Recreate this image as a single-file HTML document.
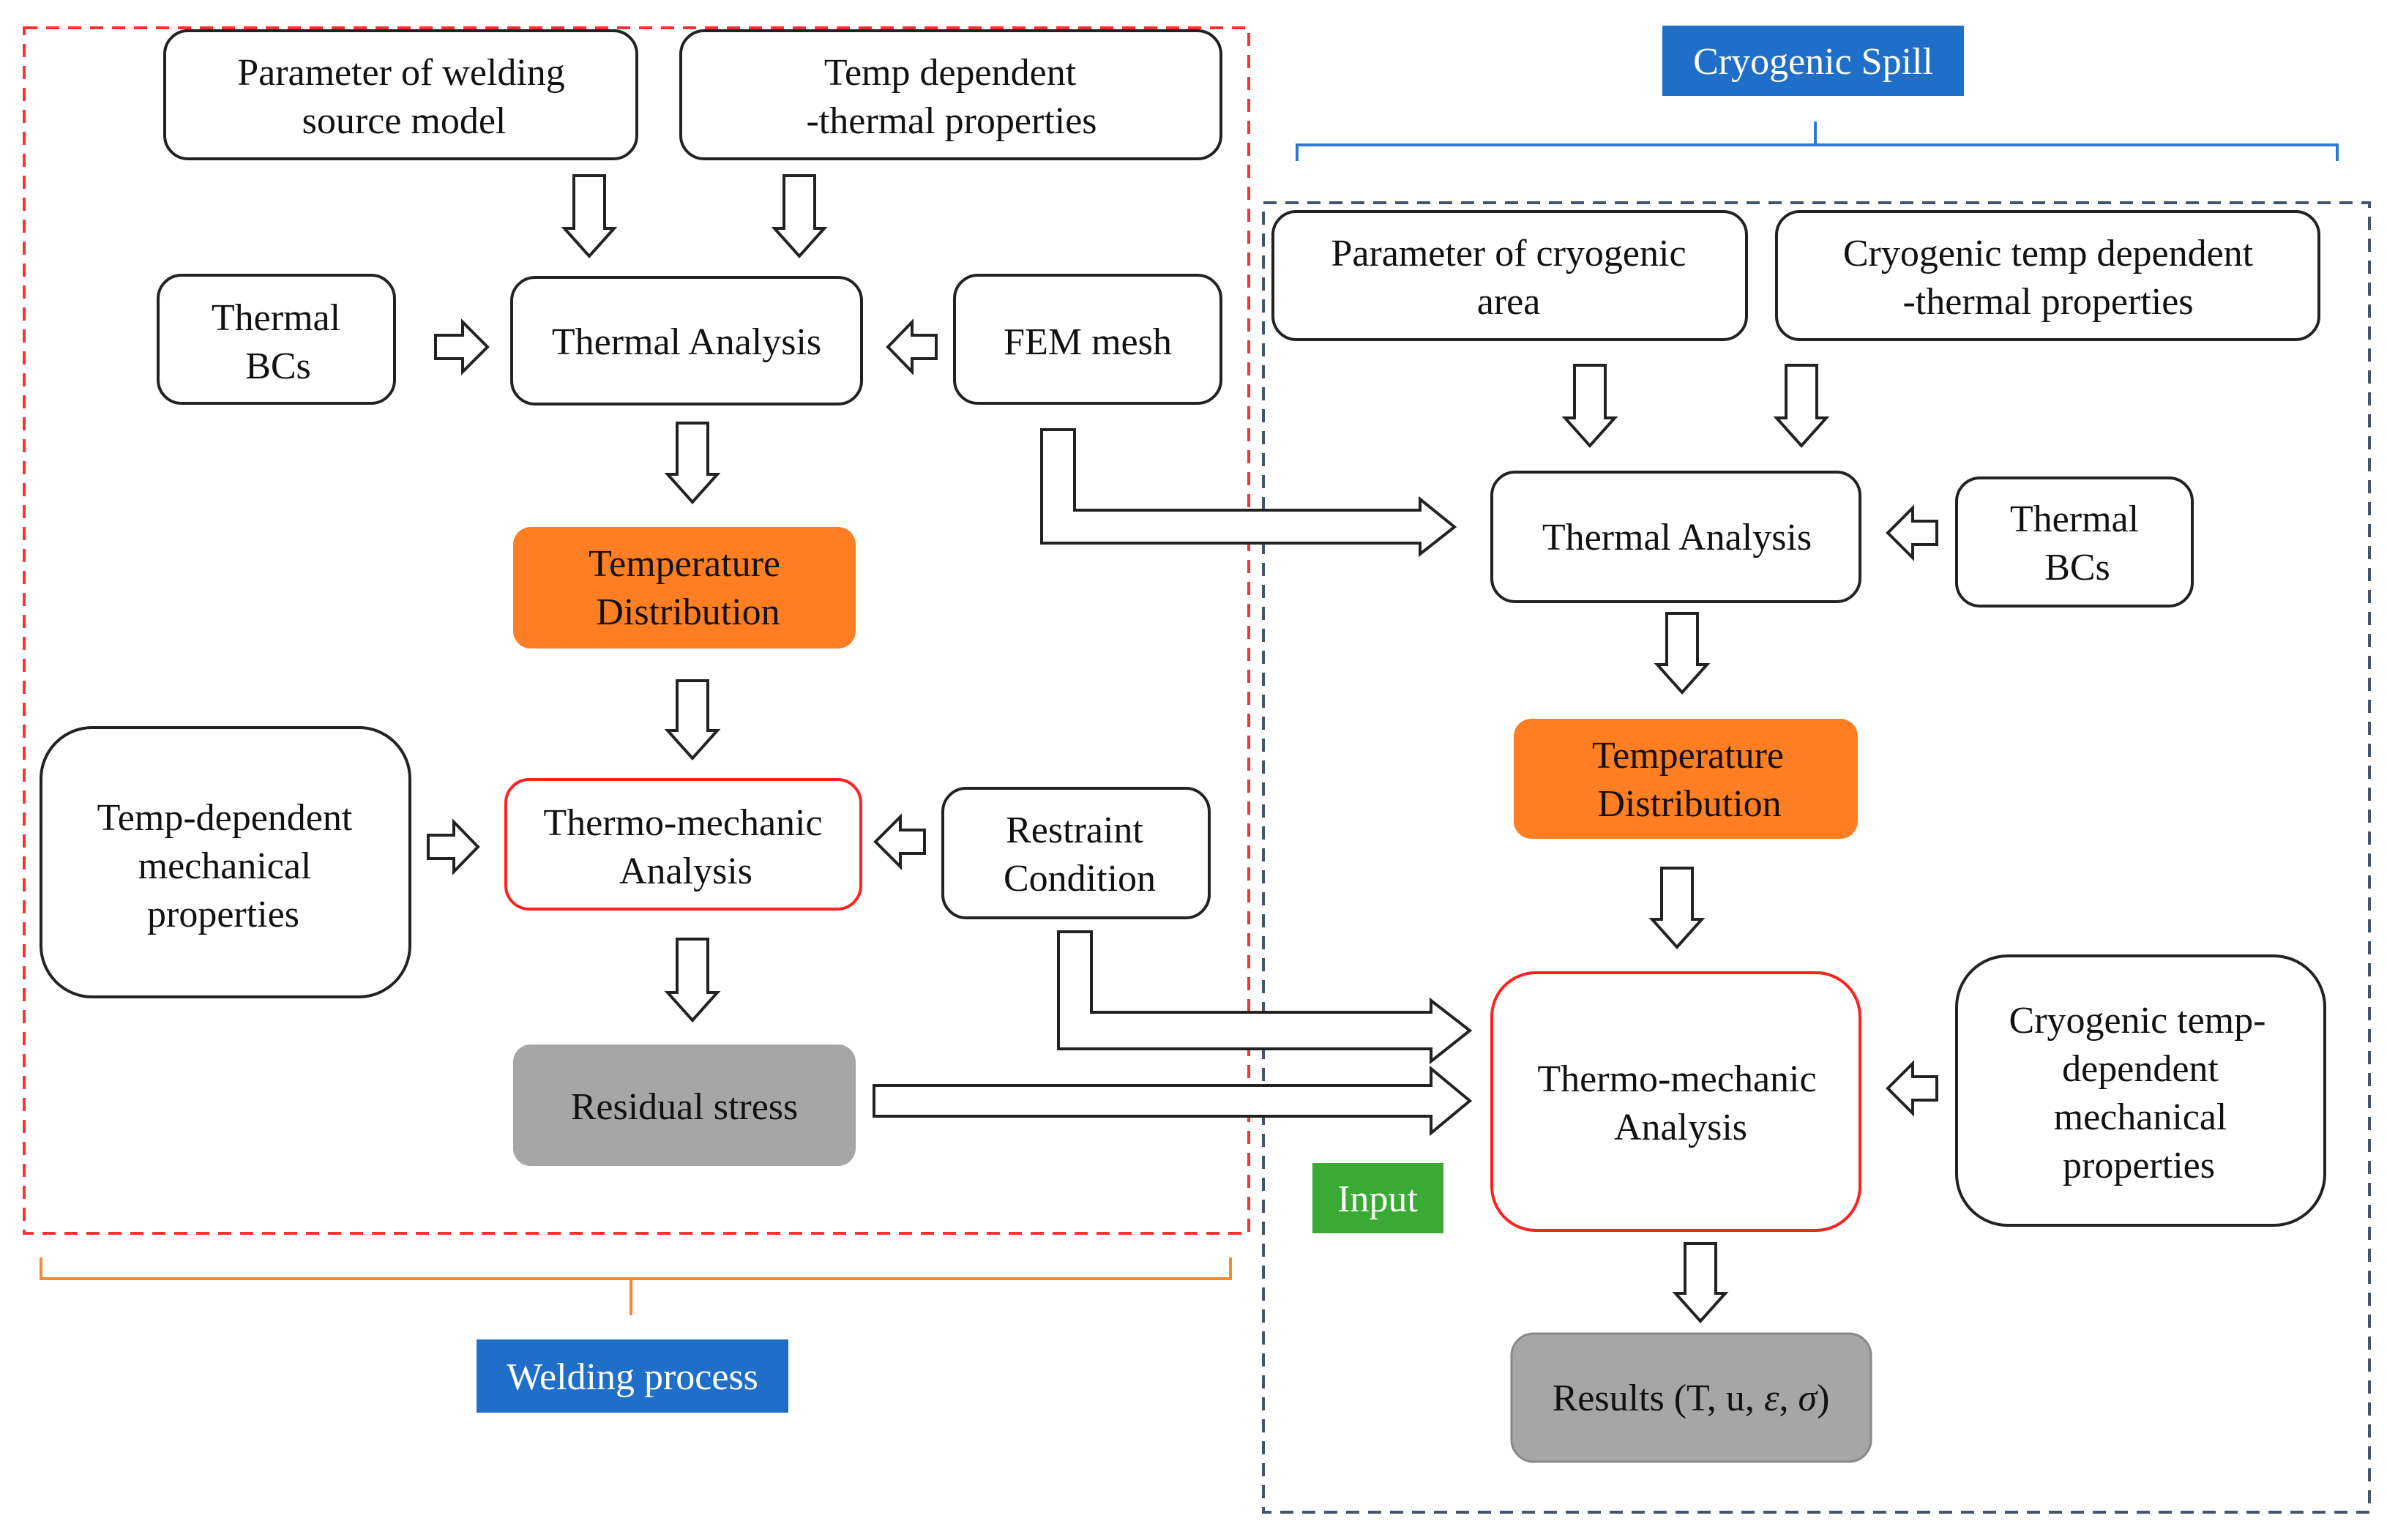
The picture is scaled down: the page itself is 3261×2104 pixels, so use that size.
<!DOCTYPE html>
<html><head><meta charset="utf-8"><style>html,body{margin:0;padding:0;background:#fff}svg{display:block}</style></head>
<body>
<svg width="3261" height="2104" viewBox="0 0 3261 2104" xmlns="http://www.w3.org/2000/svg" font-family="'Liberation Serif', serif" font-size="52" text-anchor="middle">
<rect width="3261" height="2104" fill="#fff"/>
<rect x="33" y="38" width="1673" height="1647" fill="none" stroke="#ff3030" stroke-width="4" stroke-dasharray="18,12"/>
<rect x="1726" y="277" width="1511" height="1789" fill="none" stroke="#44546a" stroke-width="4" stroke-dasharray="18,12"/>
<path d="M56 1718 V1747 H1681 V1718 M862 1747 V1797" fill="none" stroke="#f58a33" stroke-width="4"/>
<path d="M1772 220 V198 H3193 V220 M2480 198 V166" fill="none" stroke="#2f78d0" stroke-width="4"/>
<rect x="651" y="1830" width="426" height="100" fill="#1f6fc8"/>
<text x="864" y="1898" fill="#fff">Welding process</text>
<rect x="2271" y="35" width="412" height="96" fill="#1f6fc8"/>
<text x="2477" y="101" fill="#fff">Cryogenic Spill</text>
<rect x="1793" y="1589" width="179" height="96" fill="#3aaa35"/>
<text x="1882" y="1655" fill="#fff">Input</text>

<g stroke="#222" stroke-width="4" fill="#fff">
<rect x="225" y="42" width="645" height="175" rx="32"/>
<rect x="930" y="42" width="738" height="175" rx="32"/>
<rect x="216" y="376" width="323" height="175" rx="32"/>
<rect x="699" y="379" width="478" height="173" rx="32"/>
<rect x="1304" y="376" width="364" height="175" rx="32"/>
<rect x="56" y="994" width="504" height="368" rx="70"/>
<rect x="1288" y="1077" width="364" height="177" rx="32"/>
<rect x="1739" y="289" width="647" height="175" rx="32"/>
<rect x="2427" y="289" width="741" height="175" rx="32"/>
<rect x="2038" y="645" width="503" height="177" rx="32"/>
<rect x="2673" y="653" width="322" height="175" rx="32"/>
<rect x="2673" y="1306" width="503" height="368" rx="70"/>
</g>
<rect x="691" y="1065" width="485" height="177" rx="32" fill="#fff" stroke="#ff2020" stroke-width="4"/>
<rect x="2038" y="1329" width="503" height="352" rx="60" fill="#fff" stroke="#ff2020" stroke-width="4"/>
<rect x="701" y="720" width="468" height="166" rx="24" fill="#fd7e23"/>
<rect x="2068" y="982" width="470" height="164" rx="24" fill="#fd7e23"/>
<rect x="701" y="1427" width="468" height="166" rx="24" fill="#a6a6a6"/>
<rect x="2065" y="1822" width="491" height="175" rx="30" fill="#a6a6a6" stroke="#888" stroke-width="3"/>

<g fill="#111">
<text x="548" y="116">Parameter of welding</text><text x="552" y="182">source model</text>
<text x="1298" y="116">Temp dependent</text><text x="1300" y="182">-thermal properties</text>
<text x="377" y="451">Thermal</text><text x="380" y="517">BCs</text>
<text x="938" y="484">Thermal Analysis</text>
<text x="1486" y="484">FEM mesh</text>
<text x="935" y="787">Temperature</text><text x="940" y="853">Distribution</text>
<text x="307" y="1134">Temp-dependent</text><text x="307" y="1200">mechanical</text><text x="305" y="1266">properties</text>
<text x="933" y="1141">Thermo-mechanic</text><text x="937" y="1207">Analysis</text>
<text x="1468" y="1151">Restraint</text><text x="1475" y="1217">Condition</text>
<text x="935" y="1529">Residual stress</text>
<text x="2061" y="363">Parameter of cryogenic</text><text x="2061" y="429">area</text>
<text x="2798" y="363">Cryogenic temp dependent</text><text x="2798" y="429">-thermal properties</text>
<text x="2291" y="751">Thermal Analysis</text>
<text x="2834" y="726">Thermal</text><text x="2838" y="792">BCs</text>
<text x="2306" y="1049">Temperature</text><text x="2308" y="1115">Distribution</text>
<text x="2291" y="1491">Thermo-mechanic</text><text x="2296" y="1557">Analysis</text>
<text x="2920" y="1411">Cryogenic temp-</text><text x="2924" y="1477">dependent</text><text x="2924" y="1543">mechanical</text><text x="2922" y="1609">properties</text>
<text x="2310" y="1927">Results (T, u, <tspan font-style="italic">ε</tspan>, <tspan font-style="italic">σ</tspan>)</text>
</g>

<g fill="#fff" stroke="#222" stroke-width="4" stroke-linejoin="miter">
<polygon points="784,240 826,240 826,312 839,312 805,350 771,312 784,312"/>
<polygon points="1071,240 1113,240 1113,312 1126,312 1092,350 1058,312 1071,312"/>
<polygon points="925,578 967,578 967,648 980,648 946,686 912,648 925,648"/>
<polygon points="925,930 967,930 967,998 980,998 946,1036 912,998 925,998"/>
<polygon points="925,1283 967,1283 967,1356 980,1356 946,1394 912,1356 925,1356"/>
<polygon points="2151,499 2193,499 2193,571 2206,571 2172,609 2138,571 2151,571"/>
<polygon points="2440,499 2482,499 2482,571 2495,571 2461,609 2427,571 2440,571"/>
<polygon points="2277,838 2319,838 2319,908 2332,908 2298,946 2264,908 2277,908"/>
<polygon points="2270,1186 2312,1186 2312,1256 2325,1256 2291,1294 2257,1256 2270,1256"/>
<polygon points="2302,1699 2344,1699 2344,1767 2357,1767 2323,1805 2289,1767 2302,1767"/>
<polygon points="595,458 632,458 632,440 666,474 632,508 632,490 595,490"/>
<polygon points="585,1141 620,1141 620,1123 653,1157 620,1191 620,1173 585,1173"/>
<polygon points="1279,458 1246,458 1246,440 1213,474 1246,508 1246,490 1279,490"/>
<polygon points="1263,1134 1230,1134 1230,1116 1196,1150 1230,1184 1230,1166 1263,1166"/>
<polygon points="2646,712 2613,712 2613,694 2579,728 2613,762 2613,744 2646,744"/>
<polygon points="2646,1471 2613,1471 2613,1453 2579,1487 2613,1521 2613,1503 2646,1503"/>
<polygon points="1423,587 1468,587 1468,697 1940,697 1940,682 1987,720 1940,757 1940,742 1423,742"/>
<polygon points="1446,1273 1491,1273 1491,1383 1955,1383 1955,1367 2008,1408 1955,1450 1955,1433 1446,1433"/>
<polygon points="1194,1483 1955,1483 1955,1460 2008,1504 1955,1548 1955,1525 1194,1525"/>
</g>
</svg>
</body></html>
